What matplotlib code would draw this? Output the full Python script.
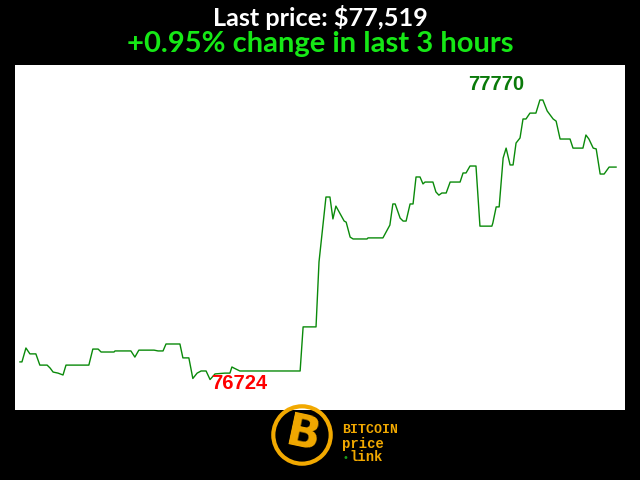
import numpy as np
import matplotlib
matplotlib.use('Agg')
import matplotlib.pyplot as plt
from matplotlib.patches import Circle

# Data: minutes into the 3 hour window, BTC price in USD
minutes = [0, 0.6, 1.8, 3.0, 4.8, 6.0, 8.2, 9.1, 10.0, 11.5, 13.0, 13.9, 20.8, 22.0,
           23.6, 24.5, 28.4, 28.7, 33.5, 34.7, 35.9, 40.5, 41.7, 43.2, 44.1, 48.3,
           49.2, 51.0, 52.2, 53.5, 54.7, 56.2, 57.4, 58.9, 61.9, 63.4, 64.0, 64.6,
           66.4, 84.6, 85.5, 89.4, 90.3, 92.4, 93.6, 94.5, 95.4, 97.9, 98.5, 99.7,
           100.6, 104.8, 105.1, 109.6, 111.7, 112.6, 113.3, 114.8, 115.7, 116.6,
           117.8, 118.7, 119.6, 120.8, 121.7, 122.3, 124.7, 125.6, 126.5, 127.4,
           128.7, 129.9, 132.9, 133.8, 134.7, 135.9, 137.7, 138.9, 142.5, 142.8,
           143.8, 144.7, 145.9, 146.8, 148.0, 148.9, 149.8, 151.0, 151.9, 152.8,
           154.0, 155.8, 157.0, 157.9, 159.2, 161.0, 161.9, 163.1, 166.1, 167.0,
           170.0, 170.9, 171.8, 173.1, 174.0, 175.2, 176.4, 177.9, 180.0]
prices = [76790, 76790, 76842, 76820, 76820, 76778, 76778, 76767, 76752, 76748,
          76741, 76778, 76778, 76838, 76838, 76827, 76827, 76831, 76831, 76808,
          76834, 76834, 76831, 76831, 76857, 76857, 76805, 76805, 76728, 76748,
          76756, 76756, 76724, 76745, 76748, 76748, 76771, 76767, 76756, 76756,
          76921, 76921, 77164, 77407, 77407, 77325, 77373, 77317, 77313, 77257,
          77250, 77250, 77254, 77254, 77302, 77381, 77381, 77328, 77317, 77317,
          77381, 77381, 77482, 77482, 77456, 77463, 77463, 77426, 77414, 77422,
          77422, 77463, 77463, 77497, 77497, 77523, 77523, 77298, 77298, 77310,
          77370, 77370, 77553, 77590, 77527, 77527, 77609, 77628, 77699, 77699,
          77721, 77721, 77770, 77770, 77729, 77699, 77691, 77624, 77624, 77590,
          77590, 77639, 77624, 77590, 77587, 77493, 77493, 77519, 77519]

last_price = prices[-1]
change = (prices[-1] - prices[0]) / prices[0] * 100
gold = '#f2a900'

fig = plt.figure(figsize=(6.4, 4.8), dpi=100, facecolor='black')

fig.text(0.5, 1 - 17/480, f'Last price: ${last_price:,}', color='white',
         fontsize=18.2, fontweight='bold', family='Lato', ha='center', va='center')
fig.text(0.5, 1 - 44/480, f'{change:+.2f}% change in last 3 hours', color='#16e816',
         fontsize=21, fontweight='bold', family='Lato', ha='center', va='center')

ax = fig.add_axes([15/640, 70/480, 610/640, 345/480])
ax.set_facecolor('white')
ax.plot(minutes, prices, color='#0a8a0a', lw=1)
ax.set_xlim(-1.5, 182.7)
ax.set_ylim(76610, 77901)
ax.set_xticks([])
ax.set_yticks([])
for s in ax.spines.values():
    s.set_visible(False)

# high / low labels
i_max = int(np.argmax(prices))
i_min = int(np.argmin(prices))
ax.annotate(str(prices[i_max]), (minutes[i_max], prices[i_max]), xytext=(-44, 16),
            textcoords='offset pixels', color='#0a7a0a', fontsize=14.5,
            fontweight='bold', family='Liberation Sans', ha='center', va='center')
ax.annotate(str(prices[i_min]), (minutes[i_min], prices[i_min]), xytext=(29, -4),
            textcoords='offset pixels', color='#ff0000', fontsize=14.5,
            fontweight='bold', family='Liberation Sans', ha='center', va='center')

# logo
lax = fig.add_axes([267/640, 10/480, 70/640, 70/480])
lax.set_xlim(-1, 1)
lax.set_ylim(-1, 1)
lax.set_aspect('equal')
lax.axis('off')
lax.add_patch(Circle((0, 0), 0.82, fill=False, ec=gold, lw=3))
lax.text(0.02, -0.02, 'B', color=gold, fontsize=32, fontweight='bold',
         family='DejaVu Sans', ha='center', va='center', rotation=-12)

fig.text(342/640, 1 - 430/480, 'BITCOIN', color=gold, fontsize=9.5, fontweight='bold',
         family='Liberation Mono', ha='left', va='center')
fig.text(342/640, 1 - 444/480, 'price', color=gold, fontsize=10, fontweight='bold',
         family='Liberation Mono', ha='left', va='center')
fig.text(349/640, 1 - 457/480, 'link', color=gold, fontsize=10, fontweight='bold',
         family='Liberation Mono', ha='left', va='center')
fig.text(345/640, 1 - 458/480, '•', color='#1a9a1a', fontsize=7,
         ha='center', va='center')

fig.savefig('out.png', dpi=100, facecolor='black')
